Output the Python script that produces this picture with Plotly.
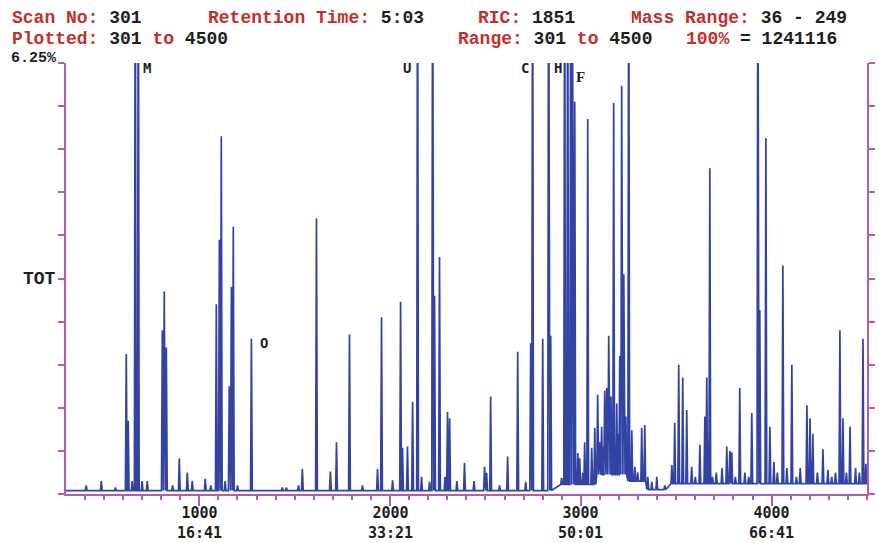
import plotly.graph_objects as go

# ---------------- data ----------------
peak_scans = [407, 486, 560, 617, 627, 648, 664, 680, 700, 727, 806, 816, 827, 860,
              895, 937, 963, 1031, 1060, 1089, 1105, 1115, 1135, 1157, 1168, 1178,
              1200, 1273, 1435, 1456, 1520, 1540, 1614, 1687, 1719, 1787, 1855, 1934,
              1955, 2013, 2055, 2065, 2091, 2118, 2144, 2165, 2207, 2223, 2233, 2259,
              2288, 2301, 2312, 2350, 2390, 2440, 2495, 2506, 2527, 2574, 2616, 2669,
              2711, 2737, 2747, 2800, 2831, 2842, 2899, 2915, 2931, 2947, 2957, 2968,
              2984, 2994, 3010, 3020, 3036, 3057, 3073, 3088, 3098, 3109, 3117, 3125,
              3136, 3146, 3158, 3172, 3188, 3196, 3204, 3214, 3225, 3236, 3251, 3267,
              3283, 3298, 3319, 3335, 3351, 3372, 3398, 3440, 3477, 3492, 3513, 3534,
              3555, 3581, 3600, 3624, 3650, 3660, 3676, 3690, 3710, 3740, 3765, 3781,
              3791, 3810, 3833, 3860, 3880, 3896, 3928, 3938, 3970, 3991, 4012, 4030,
              4059, 4080, 4106, 4130, 4150, 4185, 4201, 4216, 4240, 4269, 4295, 4315,
              4335, 4358, 4374, 4392, 4411, 4440, 4460, 4479, 4494]
peak_heights = [2, 3, 1.5, 32.5, 17, 3, 140, 140, 3, 3, 38, 47, 34, 2,
                8.3, 5, 3, 3.5, 2, 44, 59, 83, 3, 25, 48, 62,
                2, 36, 1.5, 1.5, 2, 5.8, 64, 5.2, 12, 37, 2, 5.8,
                41, 3.2, 44.6, 10.7, 11, 21.4, 140, 4, 2.8, 140, 46, 55,
                4, 19, 17.6, 3, 7.2, 3, 6.3, 4.9, 22.6, 2, 8.7, 33,
                2.8, 35, 140, 36, 140, 36.7, 3.7, 140, 140, 140, 100, 91,
                9.5, 8.3, 4.9, 12, 87, 10.7, 15.3, 23, 12, 15.6, 11, 24,
                24.6, 36.7, 22.6, 90.7, 21, 14, 32, 94.7, 51, 18, 140, 14.8,
                6.3, 5, 15.3, 16, 4, 2.8, 4, 2, 6.7, 16.5, 30, 27,
                19.5, 6.3, 4, 11.4, 18, 27, 75.6, 4, 5, 6, 11, 10,
                9.7, 4, 24.6, 5, 4, 18.8, 140, 42.7, 82.6, 15.6, 7.4, 5,
                53, 6, 30, 4, 6, 20.6, 17.6, 14, 5, 10.4, 5.6, 4,
                5, 38, 17.6, 5, 15.6, 6, 5, 36, 7]
base_edges = [301, 2890, 3078, 3245, 3340, 3470, 4500]
base_levels = [0.8, 2.2, 4.5, 3.0, 1.0, 2.4]

x_major = [1000, 2000, 3000, 4000]
x_times = ["16:41", "33:21", "50:01", "66:41"]
y_ticks = [0, 10, 20, 30, 40, 50, 60, 70, 80, 90, 100]

# header phrases: <R>...</R> marks the red label parts
header_line1 = ["<R>Scan No:</R> 301", "<R>Retention Time:</R> 5:03",
                "<R>RIC:</R> 1851", "<R>Mass Range:</R> 36 - 249"]
header_line2 = ["<R>Plotted:</R> 301 <R>to</R> 4500", "<R>Range:</R> 301 <R>to</R> 4500",
                "<R>100%</R> = 1241116"]
scale_label = "6.25%"
trace_label = "TOT"
peak_labels = ["M", "O", "U", "C", "H", "F"]

# ---------------- build the trace ----------------
def base_at(s):
    for i in range(len(base_levels)):
        if base_edges[i] <= s < base_edges[i + 1]:
            return base_levels[i]
    return base_levels[-1]

HW = 4.5
xs, ys = [301], [base_at(301)]
for s, h in zip(peak_scans, peak_heights):
    b = base_at(s)
    xs += [s - HW, s, s + HW]
    ys += [b, h, b]
xs.append(4500)
ys.append(base_at(4499))

BLUE = "#3343a3"
AXIS = "#b35cb3"
RED = "#c0302c"
INK = "#1e1e1e"
MONO = "DejaVu Sans Mono"
HEAD = "Liberation Mono"

fig = go.Figure()
fig.add_trace(go.Scatter(x=xs, y=ys, mode="lines",
                         line=dict(color=BLUE, width=1.7), hoverinfo="skip",
                         showlegend=False))

# plot area in pixels
L, R, T, B = 66, 867, 63, 494
W, H = 879, 543

def px(x):
    return (x - L) / (R - L)

def py(y):
    return (B - y) / (B - T)

def rich(t):
    t = t.replace("<R>", f"<span style='color:{RED}'>").replace("</R>", "</span>")
    return f"<b>{t}</b>"

ann = []
line1_x = [10, 206, 476, 629]
line2_x = [10, 456, 684]
for items, xpos, ypix in ((header_line1, line1_x, 18), (header_line2, line2_x, 38.5)):
    for txt, x in zip(items, xpos):
        ann.append(dict(x=px(x), y=py(ypix), xref="paper", yref="paper",
                        text=rich(txt), font=dict(family=HEAD, size=18, color=INK)))
ann.append(dict(x=px(9), y=py(58.5), xref="paper", yref="paper",
                text=f"<b>{scale_label}</b>", font=dict(family=HEAD, size=15, color=INK)))
ann.append(dict(x=px(21), y=50, xref="paper", yref="y",
                text=f"<b>{trace_label}</b>", font=dict(family=HEAD, size=18, color=INK)))

label_pos = [(141, 68), (258, 343), (401, 68), (519, 68), (552, 68), (574, 77)]
for t, (x, y) in zip(peak_labels, label_pos):
    fnt = dict(family=MONO, size=14, color=INK)
    if t == "F":
        fnt = dict(family="Liberation Serif", size=15, color=INK)
    ann.append(dict(x=px(x), y=py(y), xref="paper", yref="paper",
                    text=f"<b>{t}</b>", font=fnt))

for a in ann:
    a.update(xanchor="left", yanchor="middle", showarrow=False)

# x tick labels (scan number over retention time) anchored to the data axis
for v, t in zip(x_major, x_times):
    ann.append(dict(x=v, y=py(523), xref="x", yref="paper",
                    text=f"<b>{v}<br>{t}</b>",
                    xanchor="center", yanchor="middle", showarrow=False,
                    font=dict(family=MONO, size=15, color=INK)))

fig.update_layout(
    width=W, height=H,
    margin=dict(l=L, r=W - R, t=T, b=H - B, pad=0),
    paper_bgcolor="white", plot_bgcolor="white",
    showlegend=False,
    annotations=ann,
    xaxis=dict(range=[301, 4500], showgrid=False, zeroline=False, automargin=False,
               showline=True, linecolor=AXIS, linewidth=2,
               tickmode="array", tickvals=x_major, showticklabels=False,
               ticks="outside", ticklen=10, tickcolor=AXIS, tickwidth=1.5,
               minor=dict(dtick=100, tick0=0, ticks="outside", ticklen=4,
                          tickcolor=AXIS, tickwidth=1.5, showgrid=False)),
    yaxis=dict(range=[0, 100], showgrid=False, zeroline=False, automargin=False,
               showline=True, linecolor=AXIS, linewidth=2, mirror="ticks",
               tickmode="array", tickvals=y_ticks, showticklabels=False,
               ticks="outside", ticklen=6, tickcolor=AXIS, tickwidth=1.5),
)

fig.write_html("out.html")
